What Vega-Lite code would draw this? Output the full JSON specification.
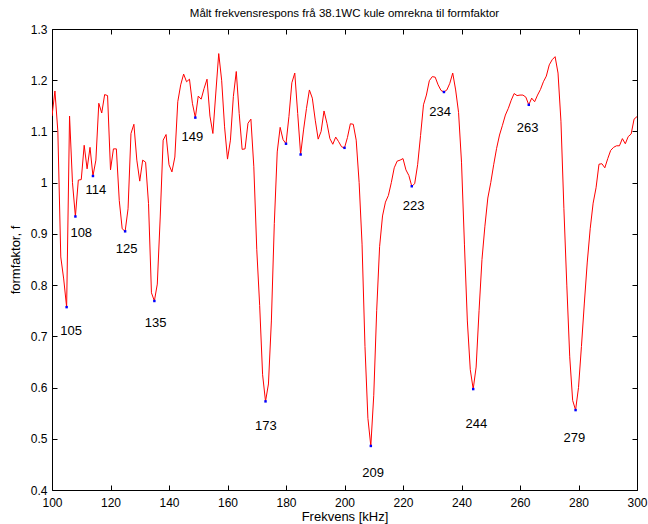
{
  "$schema": "https://vega.github.io/schema/vega-lite/v6.json",
  "width": 585,
  "height": 461,
  "autosize": {"type": "none"},
  "padding": {"left": 52, "top": 29, "right": 11, "bottom": 34},
  "background": "white",
  "config": {
    "font": "Liberation Sans",
    "view": {"stroke": "black", "strokeWidth": 1},
    "axis": {
      "domain": false,
      "grid": false,
      "labelFlush": false,
      "tickColor": "black",
      "tickSize": -5,
      "labelFont": "Liberation Sans",
      "labelFontSize": 12,
      "labelColor": "black",
      "titleFont": "Liberation Sans",
      "titleFontSize": 13,
      "titleFontWeight": "normal",
      "titleColor": "black"
    }
  },
  "title": {
    "text": "Målt frekvensrespons frå 38.1WC kule omrekna til formfaktor",
    "font": "Liberation Sans",
    "fontSize": 11.5,
    "fontWeight": "normal",
    "color": "black",
    "offset": 4
  },
  "datasets": {
    "curve": [
      {"f":100,"v":1.13},{"f":101,"v":1.179},{"f":102,"v":1.10},{"f":103,"v":0.855},{"f":104,"v":0.812},
      {"f":105,"v":0.757},{"f":106,"v":1.13},{"f":107,"v":1.0},{"f":108,"v":0.934},{"f":109,"v":1.005},
      {"f":110,"v":1.006},{"f":111,"v":1.073},{"f":112,"v":1.027},{"f":113,"v":1.069},{"f":114,"v":1.013},
      {"f":115,"v":1.044},{"f":116,"v":1.155},{"f":117,"v":1.136},{"f":118,"v":1.172},{"f":119,"v":1.17},
      {"f":120,"v":1.025},{"f":121,"v":1.066},{"f":122,"v":1.066},{"f":123,"v":0.965},{"f":124,"v":0.91},
      {"f":125,"v":0.905},{"f":126,"v":0.949},{"f":127,"v":1.096},{"f":128,"v":1.114},{"f":129,"v":1.044},
      {"f":130,"v":1.003},{"f":131,"v":1.044},{"f":132,"v":1.04},{"f":133,"v":0.959},{"f":134,"v":0.785},
      {"f":135,"v":0.769},{"f":136,"v":0.802},{"f":137,"v":0.933},{"f":138,"v":1.083},{"f":139,"v":1.094},
      {"f":140,"v":1.035},{"f":141,"v":1.021},{"f":142,"v":1.05},{"f":143,"v":1.158},{"f":144,"v":1.191},
      {"f":145,"v":1.212},{"f":146,"v":1.197},{"f":147,"v":1.202},{"f":148,"v":1.155},{"f":149,"v":1.127},
      {"f":150,"v":1.169},{"f":151,"v":1.163},{"f":152,"v":1.184},{"f":153,"v":1.202},{"f":154,"v":1.13},
      {"f":155,"v":1.096},{"f":156,"v":1.175},{"f":157,"v":1.252},{"f":158,"v":1.2},{"f":159,"v":1.109},
      {"f":160,"v":1.046},{"f":161,"v":1.083},{"f":162,"v":1.168},{"f":163,"v":1.217},{"f":164,"v":1.135},
      {"f":165,"v":1.065},{"f":166,"v":1.066},{"f":167,"v":1.116},{"f":168,"v":1.124},{"f":169,"v":1.031},
      {"f":170,"v":0.87},{"f":171,"v":0.76},{"f":172,"v":0.625},{"f":173,"v":0.573},{"f":174,"v":0.607},
      {"f":175,"v":0.73},{"f":176,"v":0.92},{"f":177,"v":1.06},{"f":178,"v":1.108},{"f":179,"v":1.084},
      {"f":180,"v":1.076},{"f":181,"v":1.129},{"f":182,"v":1.195},{"f":183,"v":1.214},{"f":184,"v":1.135},
      {"f":185,"v":1.055},{"f":186,"v":1.103},{"f":187,"v":1.145},{"f":188,"v":1.181},{"f":189,"v":1.165},
      {"f":190,"v":1.122},{"f":191,"v":1.085},{"f":192,"v":1.1},{"f":193,"v":1.14},{"f":194,"v":1.116},
      {"f":195,"v":1.086},{"f":196,"v":1.075},{"f":197,"v":1.089},{"f":198,"v":1.08},{"f":199,"v":1.07},
      {"f":200,"v":1.068},{"f":201,"v":1.088},{"f":202,"v":1.115},{"f":203,"v":1.114},{"f":204,"v":1.083},
      {"f":205,"v":1.0},{"f":206,"v":0.88},{"f":207,"v":0.68},{"f":208,"v":0.54},{"f":209,"v":0.486},
      {"f":210,"v":0.585},{"f":211,"v":0.75},{"f":212,"v":0.875},{"f":213,"v":0.935},{"f":214,"v":0.962},
      {"f":215,"v":0.975},{"f":216,"v":1.0},{"f":217,"v":1.029},{"f":218,"v":1.042},{"f":219,"v":1.044},
      {"f":220,"v":1.047},{"f":221,"v":1.025},{"f":222,"v":1.014},{"f":223,"v":0.993},{"f":224,"v":0.998},
      {"f":225,"v":1.035},{"f":226,"v":1.092},{"f":227,"v":1.152},{"f":228,"v":1.171},{"f":229,"v":1.199},
      {"f":230,"v":1.207},{"f":231,"v":1.206},{"f":232,"v":1.191},{"f":233,"v":1.18},{"f":234,"v":1.177},
      {"f":235,"v":1.181},{"f":236,"v":1.194},{"f":237,"v":1.214},{"f":238,"v":1.181},{"f":239,"v":1.137},
      {"f":240,"v":1.04},{"f":241,"v":0.88},{"f":242,"v":0.73},{"f":243,"v":0.635},{"f":244,"v":0.597},
      {"f":245,"v":0.64},{"f":246,"v":0.75},{"f":247,"v":0.85},{"f":248,"v":0.915},{"f":249,"v":0.97},
      {"f":250,"v":1.0},{"f":251,"v":1.035},{"f":252,"v":1.067},{"f":253,"v":1.093},{"f":254,"v":1.112},
      {"f":255,"v":1.132},{"f":256,"v":1.145},{"f":257,"v":1.161},{"f":258,"v":1.174},{"f":259,"v":1.17},
      {"f":260,"v":1.171},{"f":261,"v":1.171},{"f":262,"v":1.167},{"f":263,"v":1.152},{"f":264,"v":1.165},
      {"f":265,"v":1.158},{"f":266,"v":1.171},{"f":267,"v":1.182},{"f":268,"v":1.197},{"f":269,"v":1.208},
      {"f":270,"v":1.23},{"f":271,"v":1.24},{"f":272,"v":1.246},{"f":273,"v":1.214},{"f":274,"v":1.12},
      {"f":275,"v":0.95},{"f":276,"v":0.8},{"f":277,"v":0.66},{"f":278,"v":0.575},{"f":279,"v":0.556},
      {"f":280,"v":0.6},{"f":281,"v":0.68},{"f":282,"v":0.765},{"f":283,"v":0.845},{"f":284,"v":0.91},
      {"f":285,"v":0.96},{"f":286,"v":0.99},{"f":287,"v":1.036},{"f":288,"v":1.037},{"f":289,"v":1.029},
      {"f":290,"v":1.047},{"f":291,"v":1.063},{"f":292,"v":1.069},{"f":293,"v":1.072},{"f":294,"v":1.072},
      {"f":295,"v":1.086},{"f":296,"v":1.076},{"f":297,"v":1.09},{"f":298,"v":1.095},{"f":299,"v":1.124},
      {"f":300,"v":1.129}
    ],
    "minima": [
      {"f":105,"v":0.757},{"f":108,"v":0.934},{"f":114,"v":1.013},{"f":125,"v":0.905},{"f":135,"v":0.769},
      {"f":149,"v":1.127},{"f":173,"v":0.573},{"f":180,"v":1.076},{"f":185,"v":1.055},{"f":200,"v":1.068},
      {"f":209,"v":0.486},{"f":223,"v":0.993},{"f":234,"v":1.177},{"f":244,"v":0.597},{"f":263,"v":1.152},
      {"f":279,"v":0.556}
    ],
    "labels": [
      {"label":"105","lx":106.5,"ly":0.711},
      {"label":"108","lx":110.0,"ly":0.902},
      {"label":"114","lx":115.0,"ly":0.985},
      {"label":"125","lx":125.5,"ly":0.871},
      {"label":"135","lx":135.4,"ly":0.727},
      {"label":"149","lx":148.0,"ly":1.089},
      {"label":"173","lx":173.1,"ly":0.525},
      {"label":"209","lx":209.8,"ly":0.434},
      {"label":"223","lx":223.6,"ly":0.955},
      {"label":"234","lx":232.7,"ly":1.137},
      {"label":"244","lx":245.1,"ly":0.529},
      {"label":"263","lx":262.6,"ly":1.107},
      {"label":"279","lx":278.6,"ly":0.502}
    ]
  },
  "layer": [
    {
      "data": {"name": "curve"},
      "mark": {"type": "line", "color": "#ff0000", "strokeWidth": 1, "clip": true},
      "encoding": {
        "x": {
          "field": "f", "type": "quantitative",
          "scale": {"domain": [100, 300], "nice": false, "zero": false},
          "axis": {"orient": "bottom", "values": [100,120,140,160,180,200,220,240,260,280,300], "format": "d", "labelPadding": 12, "title": "Frekvens [kHz]", "titlePadding": 2}
        },
        "y": {
          "field": "v", "type": "quantitative",
          "scale": {"domain": [0.4, 1.3], "nice": false, "zero": false},
          "axis": {"orient": "left", "values": [0.4,0.5,0.6,0.7,0.8,0.9,1,1.1,1.2,1.3], "format": "~g", "labelPadding": 10, "title": "formfaktor, f", "titlePadding": 8}
        }
      }
    },
    {
      "data": {"name": "minima"},
      "mark": {"type": "point", "filled": true, "color": "#0000ff", "size": 6, "opacity": 1, "shape": "square"},
      "encoding": {
        "x": {"field": "f", "type": "quantitative", "axis": null},
        "y": {"field": "v", "type": "quantitative", "axis": null}
      }
    },
    {
      "data": {"name": "labels"},
      "mark": {"type": "text", "font": "Liberation Sans", "fontSize": 13, "color": "#000000", "align": "center", "baseline": "middle"},
      "encoding": {
        "x": {"field": "lx", "type": "quantitative", "axis": null},
        "y": {"field": "ly", "type": "quantitative", "axis": null},
        "text": {"field": "label"}
      }
    },
    {
      "data": {"name": "curve"},
      "mark": {"type": "line", "opacity": 0},
      "encoding": {
        "x": {"field": "f", "type": "quantitative", "axis": {"orient": "top", "values": [100,120,140,160,180,200,220,240,260,280,300], "labels": false, "title": null}},
        "y": {"field": "v", "type": "quantitative", "axis": {"orient": "right", "values": [0.4,0.5,0.6,0.7,0.8,0.9,1,1.1,1.2,1.3], "labels": false, "title": null}}
      }
    }
  ],
  "resolve": {"axis": {"x": "independent", "y": "independent"}}
}
